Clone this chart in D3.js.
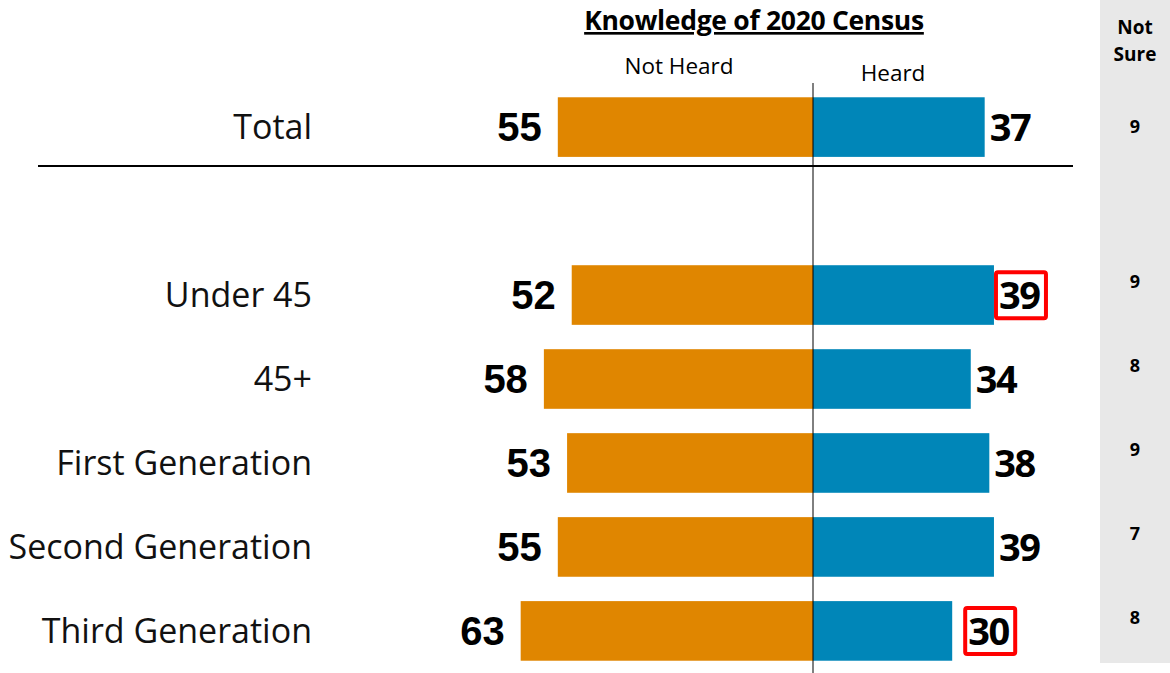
<!DOCTYPE html>
<html>
<head>
<meta charset="utf-8">
<script src="https://cdn.jsdelivr.net/npm/d3@7"></script>
<style>
  body { margin: 0; background: #fff; }
  svg { display: block; }
</style>
</head>
<body>
<svg width="1170" height="673"></svg>
<script>
// data
var categories = ["Total", "", "Under 45", "45+", "First Generation", "Second Generation", "Third Generation"];
var notHeard = [55, null, 52, 58, 53, 55, 63];
var heard = [37, null, 39, 34, 38, 39, 30];
var notSure = [9, null, 9, 8, 9, 7, 8];
var highlighted = ["Under 45", "Third Generation"];

var title = "Knowledge of 2020 Census";

var svg = d3.select("svg");
var center = 813;

var x = d3.scaleLinear().domain([0, 100]).range([0, 464]);
var y = d3.scaleBand().domain(categories).range([83, 675]).paddingInner(0.29).paddingOuter(0.17);

var rows = categories.map(function(c, i){
	return {cat: c, nh: notHeard[i], h: heard[i], ns: notSure[i], i: i};
}).filter(function(d){ return d.cat !== ""; });

// gray "not sure" column
svg.append("rect")
	.attr("x", 1100).attr("y", 0)
	.attr("width", 70).attr("height", 663)
	.style("fill", "#e8e8e8");

svg.append("text")
	.attr("x", 1135).attr("y", 34)
	.attr("text-anchor", "middle")
	.style("font-family", "Open Sans").style("font-weight", 700).style("font-size", "19px")
	.text("Not");
svg.append("text")
	.attr("x", 1135).attr("y", 61)
	.attr("text-anchor", "middle")
	.style("font-family", "Open Sans").style("font-weight", 700).style("font-size", "19px")
	.text("Sure");

// title + column headers
svg.append("text")
	.attr("x", 754).attr("y", 30)
	.attr("text-anchor", "middle")
	.style("font-family", "Open Sans").style("font-weight", 700).style("font-size", "26.5px")
	.style("letter-spacing", "-0.3px")
	.style("text-decoration", "underline")
	.text(title);

svg.append("text")
	.attr("x", 679).attr("y", 74)
	.attr("text-anchor", "middle")
	.style("font-family", "Open Sans").style("font-size", "22.5px")
	.text("Not Heard");
svg.append("text")
	.attr("x", 893).attr("y", 81)
	.attr("text-anchor", "middle")
	.style("font-family", "Open Sans").style("font-size", "22.5px")
	.text("Heard");

// bars
svg.selectAll("rect.nh").data(rows).enter().append("rect")
	.attr("class", "nh")
	.attr("x", d => center - x(d.nh))
	.attr("y", d => y(d.cat))
	.attr("width", d => x(d.nh))
	.attr("height", y.bandwidth())
	.style("fill", "#e08600");

svg.selectAll("rect.h").data(rows).enter().append("rect")
	.attr("class", "h")
	.attr("x", center)
	.attr("y", d => y(d.cat))
	.attr("width", d => x(d.h))
	.attr("height", y.bandwidth())
	.style("fill", "#0086b8");

// center line + separator
svg.append("line")
	.attr("x1", center).attr("x2", center)
	.attr("y1", 83).attr("y2", 673)
	.style("stroke", "#000").style("stroke-width", 1);

svg.append("line")
	.attr("x1", 38).attr("x2", 1073)
	.attr("y1", y("Total") + y.bandwidth() + 9).attr("y2", y("Total") + y.bandwidth() + 9)
	.style("stroke", "#000").style("stroke-width", 2);

// category labels
svg.selectAll("text.cat").data(rows).enter().append("text")
	.attr("class", "cat")
	.attr("x", 312)
	.attr("y", d => y(d.cat) + y.bandwidth() / 2)
	.attr("dy", "0.35em")
	.attr("text-anchor", "end")
	.style("font-family", "Open Sans").style("font-size", "34px")
	.style("fill", "#111")
	.text(d => d.cat);

// value labels
svg.selectAll("text.nhv").data(rows).enter().append("text")
	.attr("class", "nhv")
	.attr("x", d => center - x(d.nh) - 16)
	.attr("y", d => y(d.cat) + y.bandwidth() / 2)
	.attr("dy", "0.36em")
	.attr("text-anchor", "end")
	.style("font-family", "Liberation Sans").style("font-weight", 700).style("font-size", "40px")
	.text(d => d.nh);

var labelX = function(d){ return center + x(d.h) + (d.cat === "Third Generation" ? 16 : 5); };

svg.selectAll("rect.hl").data(rows.filter(d => highlighted.indexOf(d.cat) >= 0)).enter().append("rect")
	.attr("class", "hl")
	.attr("x", d => labelX(d) - 3)
	.attr("y", d => y(d.cat) + 7)
	.attr("width", 50).attr("height", 46)
	.attr("rx", 2)
	.style("fill", "#fff")
	.style("stroke", "#ff0000").style("stroke-width", 4);

svg.selectAll("text.hv").data(rows).enter().append("text")
	.attr("class", "hv")
	.attr("x", labelX)
	.attr("y", d => y(d.cat) + y.bandwidth() / 2)
	.attr("dy", "0.37em")
	.style("font-family", "Open Sans").style("font-weight", 700).style("font-size", "38px")
	.style("letter-spacing", "-1.5px")
	.text(d => d.h);

// not sure values
svg.selectAll("text.nsv").data(rows).enter().append("text")
	.attr("class", "nsv")
	.attr("x", 1135)
	.attr("y", d => y(d.cat) + y.bandwidth() / 2 - (d.i === 0 ? 0 : 13))
	.attr("dy", "0.35em")
	.attr("text-anchor", "middle")
	.style("font-family", "Open Sans").style("font-weight", 700).style("font-size", "18px")
	.text(d => d.ns);
</script>
</body>
</html>
